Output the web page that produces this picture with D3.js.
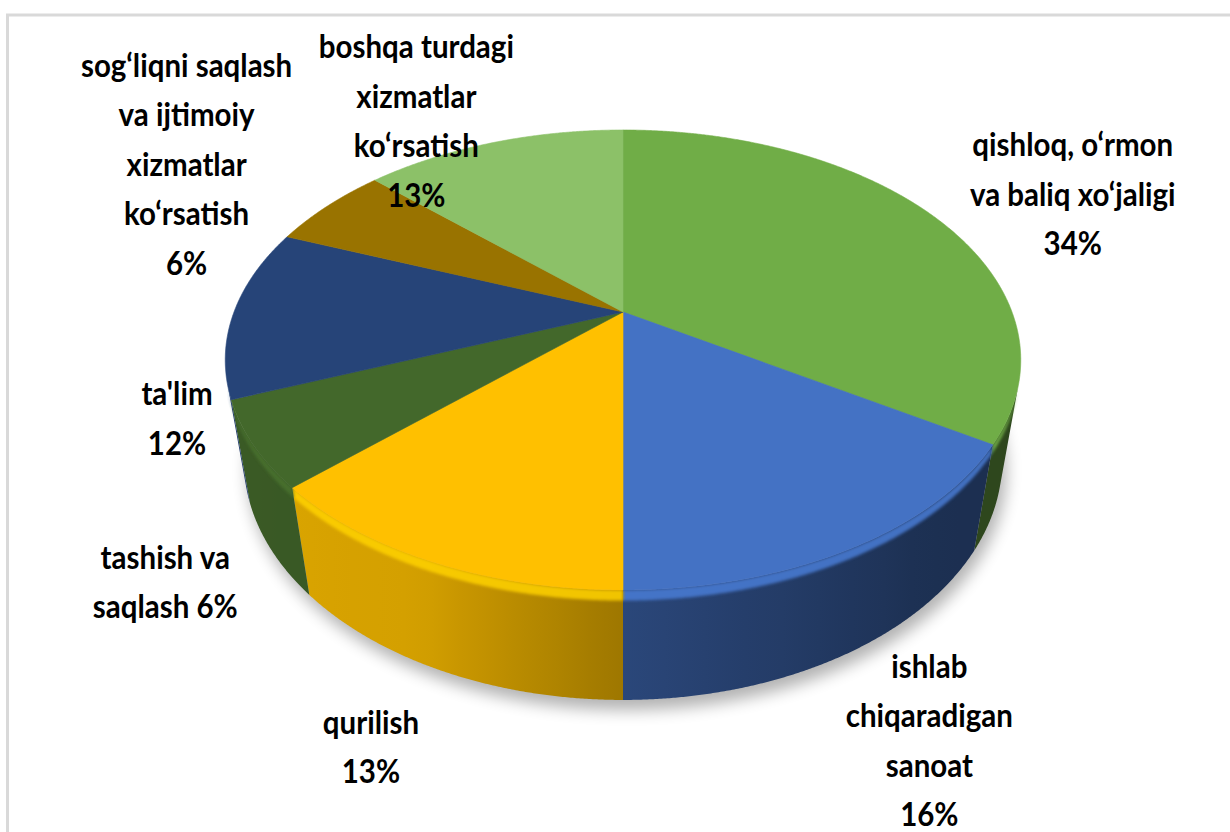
<!DOCTYPE html>
<html><head><meta charset="utf-8">
<script src="https://cdn.jsdelivr.net/npm/d3@7"></script>
<style>html,body{margin:0;padding:0;background:#fff;} svg{display:block}</style>
</head><body>
<svg id="chart" width="1230" height="832"></svg>
<script>
// ---- data ----
const labelLines = [
  ["qishloq, o‘rmon", "va baliq xo‘jaligi"],
  ["ishlab", "chiqaradigan", "sanoat"],
  ["qurilish"],
  ["tashish va", "saqlash"],
  ["ta'lim"],
  ["sog‘liqni saqlash", "va ijtimoiy", "xizmatlar", "ko‘rsatish"],
  ["boshqa turdagi", "xizmatlar", "ko‘rsatish"]
];
const categories = labelLines.map(l => l.join(" "));
const values = [34, 16, 13, 6, 12, 6, 13];
const colors = ["#70AD47", "#4472C4", "#FFC000", "#43682B", "#264478", "#997300", "#8CC168"];
const percentInline = [false, false, false, true, false, false, false];
// label offsets (px) from the projected outer-edge midpoint of each slice
const labelOffset = [[140, -20], [77, 194], [-61, 187], [-88, 139], [-57, 108], [-141, -40], [-77, -20]];

// ---- 3D projection of the pie ----
const cx = 623, cy = 312;         // projected pie centre (top face)
const K = 1537.7;                 // focal scale
const D = 3.953;                  // camera distance (in radii)
const phi = Math.asin(0.5655);    // elevation
const sphi = Math.sin(phi), cphi = Math.cos(phi);
const H = 0.328;                  // thickness (in radii)

function proj(theta, rho, z) {
  const x = rho * Math.sin(theta), y = rho * Math.cos(theta);
  const depth = y * cphi - z * sphi + D;
  const yc = y * sphi + z * cphi;
  return [cx + K * x / depth, cy - K * yc / depth];
}
function arcPts(a0, a1, z) {
  const n = Math.max(2, Math.ceil(Math.abs(a1 - a0) / (Math.PI / 720)));
  return d3.range(n + 1).map(i => proj(a0 + (a1 - a0) * i / n, 1, z));
}
const line = d3.line();

const svg = d3.select("#chart");
const defs = svg.append("defs");
defs.append("filter").attr("id", "shadowBlur").attr("x", "-20%").attr("y", "-20%").attr("width", "140%").attr("height", "140%")
  .append("feGaussianBlur").attr("stdDeviation", 8);
defs.append("filter").attr("id", "bevelBlur").attr("x", "-5%").attr("y", "-20%").attr("width", "110%").attr("height", "140%")
  .append("feGaussianBlur").attr("stdDeviation", 1.6);

const arcs = d3.pie().sort(null).value(d => d)(values);
const tVis = Math.acos(-1 / (D * cphi));
const visLo = tVis, visHi = 2 * Math.PI - tVis;
const deg = r => r * 180 / Math.PI;
const shade = d3.scaleLinear().domain([107, 140, 180, 205, 253]).range([0.40, 0.42, 0.62, 0.83, 0.88]).clamp(true);
function shaded(c, f) { const r = d3.rgb(c); return d3.rgb(r.r * f, r.g * f, r.b * f).formatHex(); }

// shadow
const bottomOutline = arcPts(0, 2 * Math.PI, -H);
svg.append("path").attr("d", line(bottomOutline) + "Z")
  .attr("transform", "translate(4,10)")
  .attr("fill", "#000").attr("opacity", 0.3).attr("filter", "url(#shadowBlur)");

// side walls
const gSide = svg.append("g");
arcs.forEach((d, i) => {
  const s = Math.max(d.startAngle, visLo), e = Math.min(d.endAngle, visHi);
  if (s >= e) return;
  const top = arcPts(s, e, 0), bot = arcPts(e, s, -H);
  const xs = proj(s, 1, 0)[0], xe = proj(e, 1, 0)[0];
  const gid = "side" + i;
  const grad = defs.append("linearGradient").attr("id", gid).attr("gradientUnits", "userSpaceOnUse")
    .attr("x1", xe).attr("y1", 0).attr("x2", xs).attr("y2", 0);
  const m = 12;
  d3.range(m + 1).forEach(j => {
    const t = e + (s - e) * j / m;
    const x = proj(t, 1, 0)[0];
    grad.append("stop").attr("offset", Math.max(0, Math.min(1, (x - xe) / (xs - xe))))
      .attr("stop-color", shaded(colors[i], shade(deg(t))));
  });
  gSide.append("path").attr("d", line(top.concat(bot)) + "Z").attr("fill", `url(#${gid})`);
  // bevel highlight band
  const bt = arcPts(s, e, 0.0), bb = arcPts(e, s, -0.03);
  gSide.append("path").attr("d", line(bt.concat(bb)) + "Z")
    .attr("fill", d3.rgb(colors[i]).brighter(0.25).formatHex())
    .attr("opacity", 0.85).attr("filter", "url(#bevelBlur)");
});

// top faces
const gTop = svg.append("g");
arcs.forEach((d, i) => {
  const pts = [proj(0, 0, 0)].concat(arcPts(d.startAngle, d.endAngle, 0));
  gTop.append("path").attr("d", line(pts) + "Z").attr("fill", colors[i])
    .attr("stroke", colors[i]).attr("stroke-width", 0.6);
});

// labels
const pct = d3.format(".0%");
const total = d3.sum(values);
const lineH = 49.5;
const gLab = svg.append("g").attr("font-family", "Lato, 'Open Sans', sans-serif")
  .attr("font-weight", 700).attr("font-size", 29.5).attr("fill", "#000").attr("text-anchor", "middle");
arcs.forEach((d, i) => {
  const mid = (d.startAngle + d.endAngle) / 2;
  const p = proj(mid, 1, 0);
  const lx = p[0] + labelOffset[i][0], ly = p[1] + labelOffset[i][1];
  const lines = labelLines[i].slice();
  const ptxt = pct(values[i] / total);
  if (percentInline[i]) lines[lines.length - 1] += " " + ptxt; else lines.push(ptxt);
  const n = lines.length;
  lines.forEach((ln, j) => {
    const by = ly - (n - 1) / 2 * lineH + j * lineH + 10;
    gLab.append("text").attr("transform", `translate(${lx},${by}) scale(1,1.1)`).text(ln);
  });
});

// chart frame
svg.append("rect").attr("x", 7.5).attr("y", 15).attr("width", 1400).attr("height", 1000)
  .attr("fill", "none").attr("stroke", "#d9d9d9").attr("stroke-width", 3);
</script>
</body></html>
